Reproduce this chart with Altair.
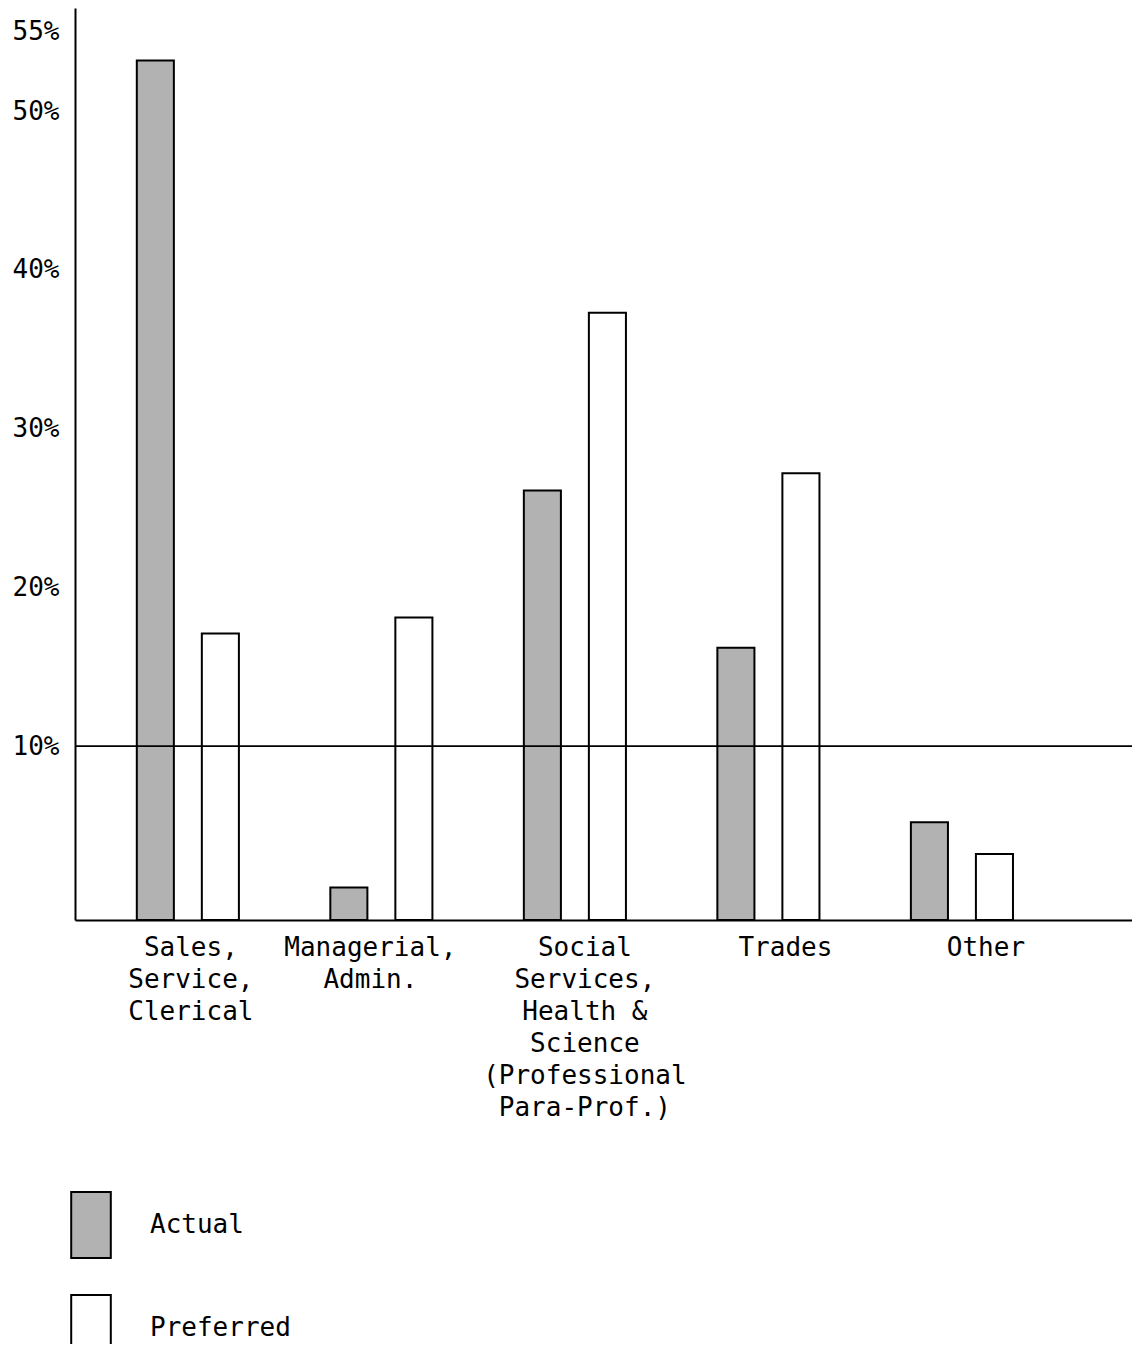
import json
import altair as alt
import pandas as pd

# ---- data ----
categories = [
    "Sales, Service, Clerical",
    "Managerial, Admin.",
    "Social Services, Health & Science (Professional Para-Prof.)",
    "Trades",
    "Other",
]
category_label_lines = [
    ["Sales,", "Service,", "Clerical"],
    ["Managerial,", "Admin."],
    ["Social", "Services,", "Health &", "Science", "(Professional", "Para-Prof.)"],
    ["Trades"],
    ["Other"],
]
series = ["Actual", "Preferred"]
actual = [53.2, 1.1, 26.1, 16.2, 5.2]
preferred = [17.1, 18.1, 37.3, 27.2, 3.2]
y_tick_values = [10, 20, 30, 40, 50, 55]
reference_level = [10]

# ---- styling ----
FONT = "DejaVu Sans Mono"
FS = 26
AXIS_MIN = -0.95
AXIS_MAX = 56.5
label_shift = {c: s for c, s in zip(categories, [3, -11, 10, 17, 24])}

rows = []
for c, a, p in zip(categories, actual, preferred):
    rows.append({"category": c, "series": "Actual", "value": a})
    rows.append({"category": c, "series": "Preferred", "value": p})
df = pd.DataFrame(rows)
df_ref = pd.DataFrame({"level": reference_level})

# multi-line labels
expr = "''"
for c, lines in reversed(list(zip(categories, category_label_lines))):
    expr = f"datum.value == {json.dumps(c)} ? {json.dumps(lines)} : ({expr})"

offset_cond = {
    "condition": [
        {"test": f"datum.value == {json.dumps(c)}", "value": s}
        for c, s in label_shift.items()
    ],
    "value": 0,
}

y_scale = alt.Scale(domain=[AXIS_MIN, AXIS_MAX], nice=False, zero=False)

bars = alt.Chart(df).mark_bar(stroke="black", strokeWidth=2, opacity=1).encode(
    x=alt.X(
        "category:N",
        sort=categories,
        scale=alt.Scale(paddingInner=0, paddingOuter=0.231, align=0.18),
        axis=alt.Axis(
            title=None,
            labelAngle=0,
            labelExpr=expr,
            labelAlign="center",
            labelBaseline="top",
            labelLineHeight=32,
            labelPadding=14,
            labelOffset=offset_cond,
            labelFont=FONT,
            labelFontSize=FS,
            labelColor="black",
            ticks=False,
            domainColor="black",
            domainWidth=2,
            labelLimit=400,
        ),
    ),
    xOffset=alt.XOffset(
        "series:N",
        sort=series,
        scale=alt.Scale(paddingInner=0.43, paddingOuter=0.703),
    ),
    y=alt.Y(
        "value:Q",
        scale=y_scale,
        axis=alt.Axis(
            title=None,
            values=y_tick_values,
            labelExpr="datum.value + '%'",
            ticks=False,
            grid=False,
            labelPadding=16,
            labelFont=FONT,
            labelFontSize=FS,
            labelColor="black",
            domainColor="black",
            domainWidth=2,
        ),
    ),
    y2=alt.datum(AXIS_MIN),
    color=alt.Color(
        "series:N",
        sort=series,
        scale=alt.Scale(domain=series, range=["#b2b2b2", "#ffffff"]),
        legend=alt.Legend(
            title=None,
            orient="none",
            legendX=-18,
            legendY=1183,
            symbolType="M-0.6,-1H0.6V1H-0.6Z",
            symbolSize=4356,
            symbolStrokeColor="black",
            symbolStrokeWidth=2,
            symbolOpacity=1,
            labelFont=FONT,
            labelFontSize=FS,
            labelColor="black",
            labelOffset=25,
            rowPadding=29,
            padding=0,
        ),
    ),
)

rule = alt.Chart(df_ref).mark_rule(color="black", strokeWidth=1.6).encode(
    y=alt.Y("level:Q", scale=y_scale)
)

chart = (
    alt.layer(bars, rule)
    .properties(
        width=1057,
        height=912,
        autosize=alt.AutoSizeParams(type="none"),
        padding={"left": 67, "top": 0, "right": 0, "bottom": 424},
        background="white",
    )
    .configure_view(stroke=None)
)

chart.save("out.html", embed_options={"renderer": "svg", "actions": False})
